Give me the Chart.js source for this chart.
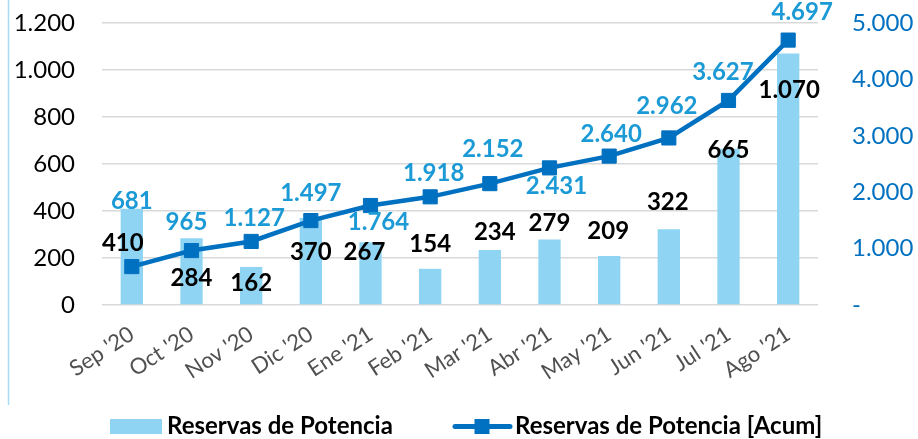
<!DOCTYPE html>
<html>
<head>
<meta charset="utf-8">
<script src="https://cdn.jsdelivr.net/npm/chart.js@4.4.1/dist/chart.umd.min.js"></script>
<style>
html,body{margin:0;padding:0;background:#fff;}
#wrap{position:relative;width:918px;height:439px;}
canvas{display:block;}
</style>
</head>
<body>
<div id="wrap"><canvas id="c" width="918" height="439"></canvas></div>
<script>
const categories = ["Sep '20","Oct '20","Nov '20","Dic '20","Ene '21","Feb '21","Mar '21","Abr '21","May '21","Jun '21","Jul '21","Ago '21"];
const reservas = [410, 284, 162, 370, 267, 154, 234, 279, 209, 322, 665, 1070];
const reservasAcum = [681, 965, 1127, 1497, 1764, 1918, 2152, 2431, 2640, 2962, 3627, 4697];
const leftTicks = [0, 200, 400, 600, 800, 1000, 1200];
const rightTicks = [0, 1000, 2000, 3000, 4000, 5000];
const seriesNames = ["Reservas de Potencia", "Reservas de Potencia [Acum]"];

// label placement (pixel offsets from each element's anchor), styling only
const barLabelOffset = [[-9,34],[0,39],[0,15],[0,33.5],[-6,9],[0,-25],[5,-18.5],[0,-17],[-1,-25],[-1,-28],[0,1],[1,36]];
const lineLabelOffset = [[0,-66.6],[-5,-29.6],[3,-24],[0,-28.6],[8,15.5],[3.5,-24],[3,-35],[7,17.6],[2,-22.6],[-2,-33],[-5.5,-29],[14,-28.6]];

const BAR_COLOR = '#8fd5f3';
const LINE_COLOR = '#0070c0';
const VAL_BLUE = '#1c9ad6';
const FONT = 'Lato, "Open Sans", sans-serif';

const fmt = v => String(v).replace(/\B(?=(\d{3})+(?!\d))/g, '.');

const framePlugin = {
  id: 'frame',
  beforeDraw(chart) {
    const ctx = chart.ctx;
    ctx.save();
    ctx.fillStyle = '#fff';
    ctx.fillRect(0, 0, chart.width, chart.height);
    ctx.strokeStyle = '#a6dbf2';
    ctx.lineWidth = 1.5;
    ctx.beginPath();
    ctx.moveTo(8.5, 0);
    ctx.lineTo(8.5, 405);
    ctx.stroke();
    ctx.restore();
  }
};

const valueLabels = {
  id: 'valueLabels',
  afterDatasetsDraw(chart) {
    const ctx = chart.ctx;
    ctx.save();
    ctx.font = 'bold 24px ' + FONT;
    ctx.textAlign = 'center';
    ctx.textBaseline = 'alphabetic';
    const half = 24 * 0.717 / 2;
    const lineMeta = chart.getDatasetMeta(1);
    const barMeta = chart.getDatasetMeta(0);
    ctx.fillStyle = VAL_BLUE;
    lineMeta.data.forEach((el, i) => {
      const [dx, dy] = lineLabelOffset[i];
      ctx.fillText(fmt(reservasAcum[i]), el.x + dx, el.y + dy + half);
    });
    ctx.fillStyle = '#000';
    barMeta.data.forEach((el, i) => {
      const [dx, dy] = barLabelOffset[i];
      ctx.fillText(fmt(reservas[i]), el.x + dx, el.y + dy + half);
    });
    ctx.restore();
  }
};

const customLegend = {
  id: 'customLegend',
  afterDraw(chart) {
    const ctx = chart.ctx;
    ctx.save();
    ctx.fillStyle = BAR_COLOR;
    ctx.fillRect(110, 419, 52, 15);
    ctx.font = 'bold 24px ' + FONT;
    ctx.fillStyle = '#000';
    ctx.textAlign = 'left';
    ctx.textBaseline = 'alphabetic';
    ctx.fillText(seriesNames[0], 167, 434);
    ctx.strokeStyle = LINE_COLOR;
    ctx.lineWidth = 5;
    ctx.lineCap = 'round';
    ctx.beginPath();
    ctx.moveTo(455, 426.5);
    ctx.lineTo(510, 426.5);
    ctx.stroke();
    ctx.fillStyle = LINE_COLOR;
    ctx.fillRect(474.5, 419, 15, 15);
    ctx.fillStyle = '#000';
    ctx.fillText(seriesNames[1], 515, 434);
    ctx.restore();
  }
};

new Chart(document.getElementById('c'), {
  data: {
    labels: categories,
    datasets: [
      {
        type: 'bar',
        label: seriesNames[0],
        data: reservas,
        yAxisID: 'y',
        backgroundColor: BAR_COLOR,
        categoryPercentage: 0.374,
        barPercentage: 1,
        order: 2
      },
      {
        type: 'line',
        label: seriesNames[1],
        data: reservasAcum,
        yAxisID: 'y1',
        borderColor: LINE_COLOR,
        borderWidth: 4.5,
        pointStyle: 'rect',
        pointRadius: 10,
        pointBackgroundColor: LINE_COLOR,
        pointBorderColor: LINE_COLOR,
        pointBorderWidth: 1,
        tension: 0,
        order: 1
      }
    ]
  },
  options: {
    responsive: false,
    animation: false,
    layout: { padding: { top: 23, left: 0, right: 0, bottom: 0 } },
    plugins: { legend: { display: false }, tooltip: { enabled: false } },
    scales: {
      x: {
        grid: { display: false },
        border: { display: false },
        ticks: {
          autoSkip: false,
          maxRotation: 33,
          minRotation: 33,
          padding: 8,
          color: '#505050',
          font: { family: FONT, size: 22 }
        },
        afterFit: s => { s.height = 134; }
      },
      y: {
        position: 'left',
        min: 0,
        max: 1200,
        afterBuildTicks: s => { s.ticks = leftTicks.map(v => ({ value: v })); },
        grid: { color: '#d9d9d9', lineWidth: 1.5, drawTicks: false },
        border: { display: false },
        ticks: {
          padding: 27,
          color: '#000',
          font: { family: FONT, size: 24 },
          callback: v => fmt(v)
        },
        afterFit: s => { s.width = 102; s.paddingTop = 0; s.paddingBottom = 0; }
      },
      y1: {
        position: 'right',
        min: 0,
        max: 5000,
        afterBuildTicks: s => { s.ticks = rightTicks.map(v => ({ value: v })); },
        grid: { display: false, drawTicks: false },
        border: { display: false },
        ticks: {
          padding: 34,
          color: LINE_COLOR,
          font: { family: FONT, size: 24 },
          callback: v => (v === 0 ? '-' : fmt(v))
        },
        afterFit: s => { s.width = 100; s.paddingTop = 0; s.paddingBottom = 0; }
      }
    }
  },
  plugins: [framePlugin, valueLabels, customLegend]
});
</script>
</body>
</html>
